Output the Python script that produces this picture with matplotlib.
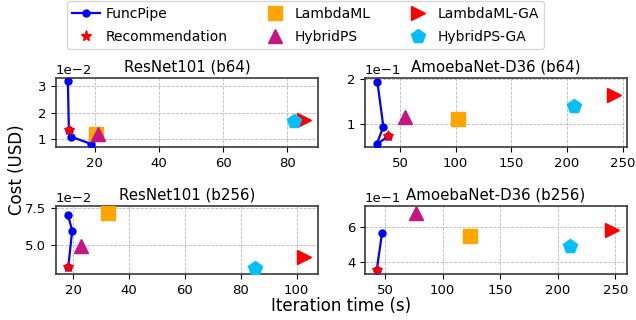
import matplotlib
matplotlib.use("Agg")
import matplotlib.pyplot as plt
from matplotlib.lines import Line2D

# ---- data (iteration time in s, cost in USD) ----
titles = ["ResNet101 (b64)", "AmoebaNet-D36 (b64)", "ResNet101 (b256)", "AmoebaNet-D36 (b256)"]

funcpipe_x = [[11.7, 12.0, 12.8, 19.0],
              [29.6, 35.0, 29.0, 39.5],
              [18.0, 19.6, 18.2],
              [47.4, 42.8]]
funcpipe_y = [[0.0319, 0.0133, 0.0108, 0.0080],
              [0.194, 0.094, 0.055, 0.073],
              [0.0704, 0.0597, 0.0352],
              [0.566, 0.353]]

rec_x = [12.0, 39.5, 18.2, 42.8]
rec_y = [0.0133, 0.073, 0.0352, 0.353]

lambdaml_x = [20.5, 102.5, 32.5, 123.3]
lambdaml_y = [0.0117, 0.111, 0.0714, 0.547]

hybridps_x = [21.2, 54.5, 22.6, 77.1]
hybridps_y = [0.0120, 0.116, 0.0493, 0.680]

lambdaml_ga_x = [85.2, 242.5, 102.6, 247.1]
lambdaml_ga_y = [0.0172, 0.165, 0.0418, 0.581]

hybridps_ga_x = [82.1, 206.5, 85.1, 210.9]
hybridps_ga_y = [0.0168, 0.139, 0.0345, 0.491]

xlims = [(8.0, 89.5), (18.5, 254.0), (13.8, 107.7), (32.6, 260.0)]
ylims = [(0.0069, 0.0332), (0.049, 0.202), (0.0306, 0.0761), (0.330, 0.720)]

W, H = 636, 320
fig = plt.figure(figsize=(W / 100, H / 100), dpi=100)

def ax_rect(x0, x1, y0, y1):
    return [x0 / W, 1 - y1 / H, (x1 - x0) / W, (y1 - y0) / H]

rects = [ax_rect(56, 318, 78, 147), ax_rect(365, 627, 78, 147),
         ax_rect(56, 318, 206, 274), ax_rect(365, 627, 206, 274)]

tick_fs = 9.5
for i in range(4):
    ax = fig.add_axes(rects[i])
    ax.grid(True, linestyle='--', color='#b8b8b8', linewidth=0.6)
    ax.set_axisbelow(True)
    for s in ax.spines.values():
        s.set_linewidth(1.2)
        s.set_color('#3a3a3a')
    ax.plot(funcpipe_x[i], funcpipe_y[i], '-o', color='blue', lw=1.6, ms=5, zorder=3)
    ax.plot([lambdaml_x[i]], [lambdaml_y[i]], 's', color='orange', ms=10, zorder=3)
    ax.plot([hybridps_x[i]], [hybridps_y[i]], '^', color='mediumvioletred', ms=10, zorder=3)
    ax.plot([lambdaml_ga_x[i]], [lambdaml_ga_y[i]], '>', color='red', ms=10, zorder=3)
    ax.plot([hybridps_ga_x[i]], [hybridps_ga_y[i]], 'p', color='deepskyblue', ms=10.5, zorder=3)
    ax.plot([rec_x[i]], [rec_y[i]], '*', color='red', ms=8, zorder=4)
    ax.set_xlim(*xlims[i])
    ax.set_ylim(*ylims[i])
    ax.ticklabel_format(axis='y', style='sci', scilimits=(0, 0))
    ax.tick_params(labelsize=tick_fs)
    ax.yaxis.get_offset_text().set_fontsize(tick_fs)
    ax.set_title(titles[i], fontsize=10.8, pad=5)

handles = [
    Line2D([], [], color='blue', marker='o', lw=1.6, ms=5, label='FuncPipe'),
    Line2D([], [], color='red', marker='*', lw=0, ms=8, label='Recommendation'),
    Line2D([], [], color='orange', marker='s', lw=0, ms=10, label='LambdaML'),
    Line2D([], [], color='mediumvioletred', marker='^', lw=0, ms=10, label='HybridPS'),
    Line2D([], [], color='red', marker='>', lw=0, ms=10, label='LambdaML-GA'),
    Line2D([], [], color='deepskyblue', marker='p', lw=0, ms=10.5, label='HybridPS-GA'),
]
fig.legend(handles=handles, loc='upper center', bbox_to_anchor=(305.5 / W, 1.0),
           ncol=3, fontsize=10, columnspacing=2.4, borderaxespad=0.1,
           handletextpad=0.4, labelspacing=0.62)

fig.text(341.5 / W, 1 - 306 / H, 'Iteration time (s)', ha='center', va='center', fontsize=12)
fig.text(17 / W, 1 - 170 / H, 'Cost (USD)', ha='center', va='center', rotation=90, fontsize=12)

fig.savefig('out.png', dpi=100)
